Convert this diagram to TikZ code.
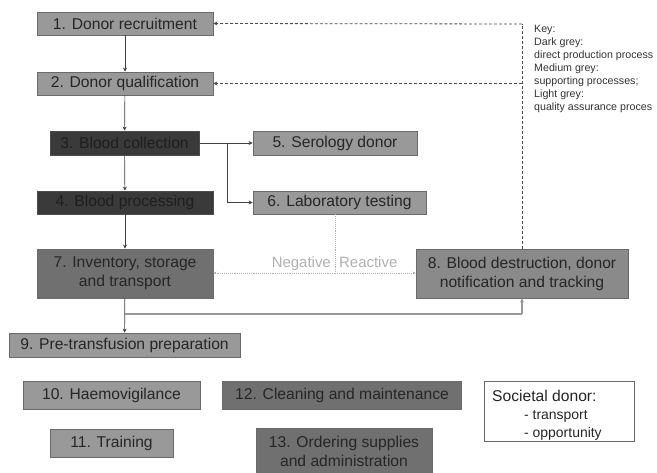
\documentclass[tikz,border=0pt]{standalone}
\usepackage{fontspec}
\setmainfont{Liberation Sans}
\usetikzlibrary{arrows.meta}
\definecolor{lightbox}{HTML}{999999}
\definecolor{medbox}{HTML}{707070}
\definecolor{eightbox}{HTML}{8A8A8A}
\definecolor{darkbox}{HTML}{3A3A3A}
\definecolor{darktext}{HTML}{1E1E1E}
\definecolor{boxline}{HTML}{6A6A6A}
\definecolor{paletext}{HTML}{B0B0B0}
\definecolor{keytext}{HTML}{333333}
\begin{document}
\begin{tikzpicture}[x=1bp,y=-1bp,
  proc/.style={draw=boxline, line width=0.8bp, inner sep=0pt, align=center,
    font=\fontsize{15.7}{19}\selectfont, text=black!85},
  lightp/.style={proc, fill=lightbox},
  medp/.style={proc, fill=medbox},
  darkp/.style={proc, fill=darkbox, draw=black!70, text=darktext},
  flow/.style={draw=black!75, line width=0.7bp, -{Stealth[length=4bp,width=4bp]}},
  feedback/.style={draw=black!70, line width=0.8bp, densely dashed, -{Stealth[length=4bp,width=4bp]}},
  pale/.style={draw=paletext, line width=0.9bp, densely dotted},
  keyline/.style={anchor=base west, font=\fontsize{10.7}{12}\selectfont, text=keytext, inner sep=0pt}
]
\clip (0,0) rectangle (657,473);
\fill[white] (0,0) rectangle (657,473);

% boxes
\node[lightp, minimum width=176bp, minimum height=23bp] (n1) at (125,23.5) {1. Donor recruitment};
\node[lightp, minimum width=176bp, minimum height=23bp] (n2) at (125,83.5) {2. Donor qualification};
\node[darkp, minimum width=149bp, minimum height=24bp] (n3) at (124.5,143) {3. Blood collection};
\node[darkp, minimum width=176bp, minimum height=23bp] (n4) at (125,202.5) {4. Blood processing};
\node[lightp, minimum width=164bp, minimum height=24bp] (n5) at (335,143) {5. Serology donor};
\node[lightp, minimum width=173bp, minimum height=23bp] (n6) at (339.5,202.5) {6. Laboratory testing};
\node[medp, minimum width=176bp, minimum height=49bp] (n7) at (125,273.5) {7. Inventory, storage\\and transport};
\node[proc, fill=eightbox, minimum width=212bp, minimum height=49bp] (n8) at (522,273.5) {8. Blood destruction, donor\\notification and tracking};
\node[lightp, minimum width=231bp, minimum height=24bp] (n9) at (124.5,345) {9. Pre-transfusion preparation};
\node[lightp, minimum width=177bp, minimum height=28bp] (n10) at (111.5,395) {10. Haemovigilance};
\node[lightp, minimum width=123bp, minimum height=28bp] (n11) at (111.5,443) {11. Training};
\node[medp, minimum width=239bp, minimum height=28bp] (n12) at (342,395) {12. Cleaning and maintenance};
\node[medp, minimum width=176bp, minimum height=47bp] (n13) at (344,451.5) {13. Ordering supplies\\and administration};

% societal donor box
\node[draw=boxline, line width=0.8bp, fill=white, minimum width=150bp, minimum height=60bp, inner sep=0pt] (soc) at (559,411) {};
\node[anchor=base west, inner sep=0pt, font=\fontsize{15.7}{18}\selectfont, text=black!85] (socT) at (492,401) {Societal donor:};
\node[anchor=base west, inner sep=0pt, font=\fontsize{14}{16}\selectfont, text=black!85] (socA) at (524,419) {- transport};
\node[anchor=base west, inner sep=0pt, font=\fontsize{14}{16}\selectfont, text=black!85] (socB) at (524,437) {- opportunity};

% key
\node[keyline] (k1) at (534,33) {Key:};
\node[keyline] (k2) at (534,46) {Dark grey:};
\node[keyline] (k3) at (534,59) {direct production process};
\node[keyline] (k4) at (534,72) {Medium grey:};
\node[keyline] (k5) at (534,85) {supporting processes;};
\node[keyline] (k6) at (534,98) {Light grey:};
\node[keyline] (k7) at (534,111) {quality assurance proces};

% main flow
\draw[flow] (n1) -- (n2);
\draw[flow] (n2) -- (n3);
\draw[flow] (n3) -- (n4);
\draw[flow] (n4) -- (n7);
\draw[flow] (n7) -- (n9);
\draw[flow] (n3.east) -- (n5.west |- n3.east);
\coordinate (br) at (227,143);
\draw[flow] (br) |- (n6.west);

% 7 -> 8
\coordinate (low) at (125,314);
\coordinate (lowr) at (522,314);
\draw[draw=black!40, line width=1.6bp] (low) -- (lowr);
\draw[draw=black!40, line width=1.6bp, -{Stealth[length=4bp,width=4bp]}] (lowr) -- (n8.south);

% feedback dashed
\coordinate (top) at (522,24);
\coordinate (mid) at (522,83.5);
\draw[draw=black!70, line width=0.8bp, densely dashed] (n8.north) -- (top);
\draw[feedback] (top) -- (n1.east);
\draw[feedback] (mid) -- (n2.east);

% negative / reactive
\coordinate (jn) at (335,273);
\draw[pale] (n6.south -| jn) -- (jn);
\draw[pale, -{Stealth[length=3bp,width=3bp]}] (jn) -- (n7.east |- jn);
\draw[pale, -{Stealth[length=3bp,width=3bp]}] (jn) -- (n8.west |- jn);
\node[anchor=base east, inner sep=0pt, font=\fontsize{15}{17}\selectfont, text=paletext] (neg) at (331,268) {Negative};
\node[anchor=base west, inner sep=0pt, font=\fontsize{15}{17}\selectfont, text=paletext] (rea) at (339,268) {Reactive};
\end{tikzpicture}
\end{document}
